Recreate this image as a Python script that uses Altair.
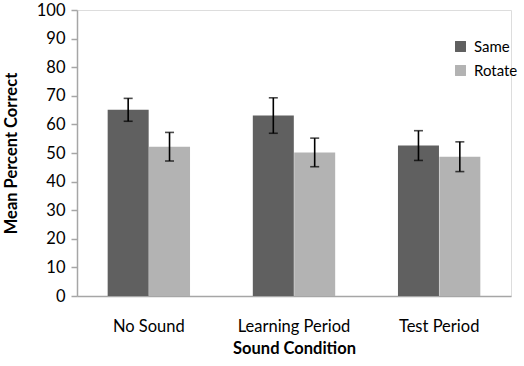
import altair as alt
import pandas as pd

conditions = ["No Sound", "Learning Period", "Test Period"]
groups = ["Same", "Rotate"]
same_means = [65.1, 63.1, 52.6]
rotate_means = [52.2, 50.2, 48.7]
same_err = [4.0, 6.2, 5.2]
rotate_err = [5.0, 5.0, 5.2]
y_ticks = [0, 10, 20, 30, 40, 50, 60, 70, 80, 90, 100]
colors = ["#606060", "#b3b3b3"]

rows = []
for i, c in enumerate(conditions):
    rows.append({"condition": c, "group": "Same", "mean": same_means[i],
                 "lo": same_means[i] - same_err[i], "hi": same_means[i] + same_err[i]})
    rows.append({"condition": c, "group": "Rotate", "mean": rotate_means[i],
                 "lo": rotate_means[i] - rotate_err[i], "hi": rotate_means[i] + rotate_err[i]})
df = pd.DataFrame(rows)

FONT = "Lato"
FS = 16.5

x_enc = alt.X("condition:N", sort=conditions, title="Sound Condition",
              scale=alt.Scale(paddingInner=0.43, paddingOuter=0.21),
              axis=alt.Axis(labelAngle=0, ticks=False, domainColor="#a6a6a6",
                            domainWidth=1.5, labelFontSize=FS, labelPadding=22,
                            labelColor="#000000", titleFontSize=FS,
                            titleFontWeight="bold", titlePadding=6, labelFont=FONT,
                            titleFont=FONT, titleColor="#000000"))
xoff = alt.XOffset("group:N", sort=groups, scale=alt.Scale(domain=groups, paddingInner=0))
y_scale = alt.Scale(domain=[0, 100], nice=False)
y_axis = alt.Axis(values=y_ticks, tickCount=11, grid=False, domainColor="#a6a6a6",
                  domainWidth=1.5, tickColor="#a6a6a6", tickSize=6,
                  tickWidth=1.5, labelFontSize=FS, labelPadding=6,
                  labelOverlap=False, labelColor="#000000",
                  titleFontSize=FS, titleFontWeight="bold",
                  titlePadding=17, labelFont=FONT,
                  titleFont=FONT, titleColor="#000000")
Y_TITLE = "Mean Percent Correct"

base = alt.Chart(df).encode(x=x_enc, xOffset=xoff)

bars = base.mark_bar(size=41).encode(
    y=alt.Y("mean:Q", scale=y_scale, title=Y_TITLE, axis=y_axis),
    color=alt.Color("group:N", sort=groups,
                    scale=alt.Scale(domain=groups, range=colors),
                    legend=alt.Legend(title=None, orient="none", legendX=376,
                                      legendY=29, symbolType="square",
                                      symbolSize=120, symbolStrokeWidth=0,
                                      labelFontSize=15, labelFont=FONT,
                                      labelColor="#000000", rowPadding=8,
                                      labelOffset=6)),
)

whisker = base.mark_rule(color="#000000", strokeWidth=1.6).encode(
    y=alt.Y("lo:Q", scale=y_scale, title=Y_TITLE, axis=y_axis), y2="hi:Q")
cap_hi = base.mark_tick(color="#000000", size=9, thickness=1.6, orient="horizontal").encode(
    y=alt.Y("hi:Q", scale=y_scale, title=Y_TITLE, axis=y_axis))
cap_lo = base.mark_tick(color="#000000", size=9, thickness=1.6, orient="horizontal").encode(
    y=alt.Y("lo:Q", scale=y_scale, title=Y_TITLE, axis=y_axis))

chart = alt.layer(bars, whisker, cap_hi, cap_lo).properties(
    width=434, height=286,
    autosize=alt.AutoSizeParams(type="none"),
    padding={"left": 77, "top": 10, "right": 13, "bottom": 70},
).configure_view(stroke=None).configure(background="#ffffff")

chart.save("out.html", embed_options={"renderer": "svg", "actions": False})
